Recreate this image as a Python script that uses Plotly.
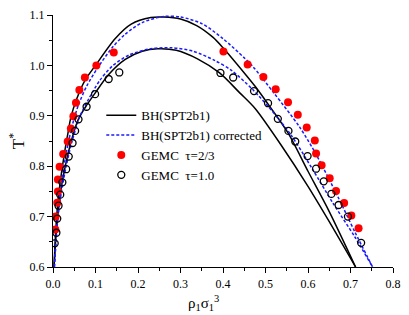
import plotly.graph_objects as go

# BH(SPT2b1), tau=2/3 (upper solid curve)
bh_a_x = [0.0025, 0.006, 0.0115, 0.018, 0.027, 0.034, 0.042, 0.055, 0.075, 0.10, 0.146, 0.184, 0.23, 0.261,
          0.30, 0.338, 0.376, 0.40, 0.453, 0.476, 0.507, 0.553, 0.60, 0.65, 0.712]
bh_a_y = [0.60, 0.665, 0.729, 0.775, 0.826, 0.86, 0.897, 0.932, 0.970, 1.0, 1.053, 1.082, 1.095, 1.096,
          1.092, 1.079, 1.056, 1.035, 0.982, 0.958, 0.922, 0.866, 0.79, 0.71, 0.60]
# BH(SPT2b1), tau=1.0 (lower solid curve)
bh_b_x = [0.0025, 0.006, 0.011, 0.018, 0.029, 0.043, 0.060, 0.080, 0.099, 0.131, 0.17, 0.21, 0.246, 0.29,
          0.34, 0.392, 0.44, 0.476, 0.535, 0.60, 0.65, 0.712]
bh_b_y = [0.60, 0.65, 0.70, 0.75, 0.80, 0.85, 0.894, 0.922, 0.945, 0.982, 1.012, 1.028, 1.033, 1.030,
          1.013, 0.985, 0.945, 0.914, 0.844, 0.76, 0.69, 0.60]
# BH(SPT2b1) corrected, tau=2/3
cor_a_x = [0.0035, 0.008, 0.014, 0.022, 0.032, 0.045, 0.060, 0.080, 0.105, 0.14, 0.17, 0.21, 0.26, 0.30,
           0.35, 0.40, 0.45, 0.47, 0.52, 0.58, 0.62, 0.67, 0.71, 0.752]
cor_a_y = [0.60, 0.665, 0.729, 0.78, 0.83, 0.88, 0.922, 0.960, 0.995, 1.036, 1.062, 1.085, 1.097, 1.096,
           1.083, 1.053, 1.015, 0.998, 0.945, 0.878, 0.822, 0.74, 0.67, 0.60]
# BH(SPT2b1) corrected, tau=1.0
cor_b_x = [0.003, 0.007, 0.012, 0.020, 0.031, 0.045, 0.063, 0.085, 0.11, 0.14, 0.18, 0.23, 0.28, 0.33,
           0.38, 0.42, 0.47, 0.52, 0.56, 0.61, 0.66, 0.71, 0.752]
cor_b_y = [0.60, 0.65, 0.70, 0.75, 0.80, 0.85, 0.898, 0.935, 0.970, 0.999, 1.021, 1.033, 1.035, 1.028,
           1.010, 0.990, 0.952, 0.905, 0.862, 0.795, 0.725, 0.66, 0.60]

# GEMC tau=2/3 (red filled)
gemc_a_x = [0.0055, 0.006, 0.010, 0.0115, 0.0115, 0.0155, 0.024, 0.0346, 0.042, 0.048, 0.054, 0.062, 0.075,
            0.102, 0.143, 0.401, 0.458, 0.495, 0.524, 0.553, 0.576, 0.597, 0.616, 0.619, 0.632, 0.651,
            0.666, 0.685, 0.702, 0.719]
gemc_a_y = [0.6745, 0.700, 0.7275, 0.750, 0.7735, 0.799, 0.824, 0.849, 0.875, 0.899, 0.926, 0.951, 0.976,
            1.000, 1.0256, 1.0276, 1.0016, 0.977, 0.9525, 0.927, 0.902, 0.877, 0.851, 0.825, 0.802, 0.776,
            0.751, 0.727, 0.702, 0.677]
# GEMC tau=1.0 (open black)
gemc_b_x = [0.004, 0.008, 0.010, 0.013, 0.017, 0.022, 0.031, 0.037, 0.046, 0.052, 0.060, 0.079, 0.099,
            0.131, 0.156, 0.394, 0.424, 0.473, 0.506, 0.529, 0.554, 0.570, 0.599, 0.619, 0.637, 0.655,
            0.672, 0.694, 0.725]
gemc_b_y = [0.647, 0.668, 0.696, 0.7216, 0.7436, 0.768, 0.794, 0.819, 0.846, 0.870, 0.893, 0.918, 0.943,
            0.973, 0.986, 0.985, 0.976, 0.949, 0.925, 0.894, 0.870, 0.849, 0.820, 0.795, 0.770, 0.745,
            0.723, 0.700, 0.648]

FONT = "Liberation Serif"

fig = go.Figure()
fig.add_trace(go.Scatter(x=bh_a_x, y=bh_a_y, mode="lines", name="BH(SPT2b1)",
                         line=dict(color="black", width=1.5, shape="spline", smoothing=0.8),
                         legendgroup="bh"))
fig.add_trace(go.Scatter(x=bh_b_x, y=bh_b_y, mode="lines", name="BH(SPT2b1)", showlegend=False,
                         line=dict(color="black", width=1.5, shape="spline", smoothing=0.8),
                         legendgroup="bh"))
fig.add_trace(go.Scatter(x=cor_a_x, y=cor_a_y, mode="lines", name="BH(SPT2b1) corrected",
                         line=dict(color="#1a1aff", width=1.5, dash="3px,2px", shape="spline", smoothing=0.8),
                         legendgroup="cor"))
fig.add_trace(go.Scatter(x=cor_b_x, y=cor_b_y, mode="lines", name="BH(SPT2b1) corrected", showlegend=False,
                         line=dict(color="#1a1aff", width=1.5, dash="3px,2px", shape="spline", smoothing=0.8),
                         legendgroup="cor"))
fig.add_trace(go.Scatter(x=gemc_a_x, y=gemc_a_y, mode="markers", name="GEMC  τ=2/3",
                         marker=dict(color="#ff0000", size=8, line=dict(width=0))))
fig.add_trace(go.Scatter(x=gemc_b_x, y=gemc_b_y, mode="markers", name="GEMC  τ=1.0",
                         marker=dict(symbol="circle-open", color="black", size=7, line=dict(width=1.3, color="black"))))

axis_common = dict(
    showgrid=False, zeroline=False, showline=True, linecolor="black", linewidth=1.2,
    ticks="outside", ticklen=5, tickwidth=1, tickcolor="black",
    tickfont=dict(family=FONT, size=12, color="black"),
    minor=dict(ticks="outside", ticklen=3, tickwidth=1, tickcolor="black", dtick=0.05),
    mirror=False,
)

fig.update_layout(
    width=409, height=315,
    margin=dict(l=53, r=8.5, t=9, b=48.3),
    paper_bgcolor="white", plot_bgcolor="white",
    font=dict(family=FONT, color="black"),
    xaxis=dict(range=[0, 0.8], dtick=0.1, tick0=0, tickformat=".1f", **axis_common),
    yaxis=dict(range=[0.6, 1.1], dtick=0.1, tick0=0.6, tickformat=".1f",
               title=dict(text="T<sup>*</sup>", font=dict(family=FONT, size=17), standoff=0),
               **axis_common),
    legend=dict(x=0.142, y=0.662, xanchor="left", yanchor="top", bgcolor="rgba(0,0,0,0)",
                font=dict(family=FONT, size=13, color="black"), tracegroupgap=0, itemwidth=30),
    showlegend=True,
    annotations=[dict(text="ρ<sub>1</sub>σ<sub>1</sub><sup>3</sup>", xref="paper", yref="paper",
                      x=0.444, y=-0.095, xanchor="center", yanchor="top", showarrow=False,
                      font=dict(family=FONT, size=15, color="black"))],
)

fig.write_html("out.html", config={"displayModeBar": False},
               post_script="document.body.style.margin='0px';")
